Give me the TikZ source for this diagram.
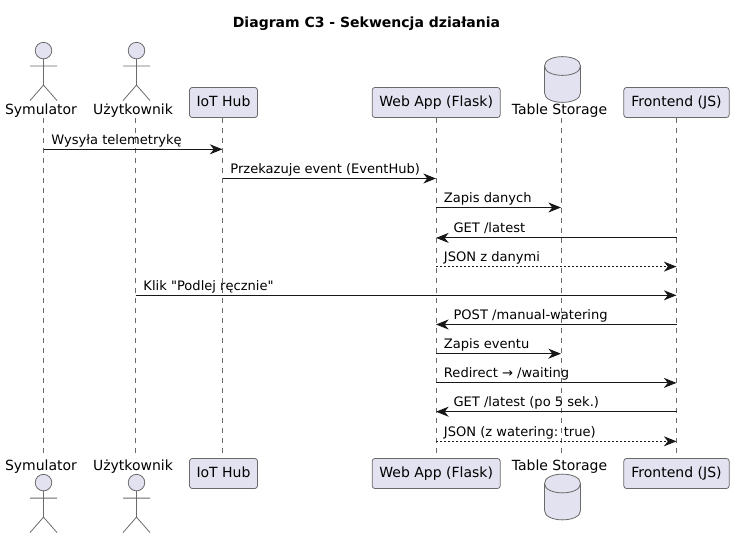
\documentclass[tikz,border=0pt]{standalone}
\usepackage{fontspec}
\setmainfont{DejaVu Sans}[Ligatures=TeXOff]
\usetikzlibrary{arrows.meta}
\definecolor{partfill}{HTML}{E2E2F0}
\definecolor{partline}{HTML}{6A6A6A}
\definecolor{callline}{HTML}{181818}

\begin{document}
\begin{tikzpicture}[x=0.75pt,y=-0.75pt,>={Stealth[length=9.5pt,width=7.5pt,inset=3pt]},
  part/.style={rectangle, draw=partline, line width=0.6pt, fill=partfill, rounded corners=2pt, minimum height=22.5pt, inner sep=0pt, text height=7.6pt, text depth=2.2pt, font=\fontsize{10.5}{12}\selectfont, text=black},
  actorname/.style={inner sep=0pt, text height=7.6pt, text depth=2.2pt, font=\fontsize{10.5}{12}\selectfont, text=black},
  figure/.style={draw=partline, line width=0.6pt, fill=partfill},
  limbs/.style={draw=partline, line width=0.6pt},
  lifeline/.style={draw=partline, line width=0.5pt, dash pattern=on 3.75pt off 3.75pt},
  call/.style={draw=callline, line width=0.75pt},
  reply/.style={call, dash pattern=on 1.5pt off 1.5pt},
  msgr/.style={pos=0, anchor=base west, inner sep=0pt, xshift=5.6pt, yshift=3.9pt, text=black, font=\fontsize{9.8}{12}\selectfont},
  msgl/.style={msgr, pos=1, xshift=7.2pt}]
\useasboundingbox (0,0) rectangle (734,538);
\node[inner sep=0pt, font=\fontsize{10.5}{12}\selectfont\bfseries] (title) at (366.5,24) {Diagram C3 - Sekwencja działania};

% lifelines
\coordinate (simA) at (43.5,118);   \coordinate (simB) at (43.5,457);
\coordinate (usrA) at (135.5,118);  \coordinate (usrB) at (135.5,457);
\coordinate (hubA) at (222.5,118);  \coordinate (hubB) at (222.5,458);
\coordinate (webA) at (436,118);    \coordinate (webB) at (436,458);
\coordinate (tabA) at (561,118);    \coordinate (tabB) at (561,457);
\coordinate (frnA) at (676.5,118);  \coordinate (frnB) at (676.5,458);
\foreach \who in {sim,usr,hub,web,tab,frn}
  \draw[lifeline] (\who A)--(\who B);

% participants
\draw (223.5,102.5) node[part, minimum width=51pt] (hub) {IoT Hub};
\draw (436.2,102.5) node[part, minimum width=96pt] (web) {Web App (Flask)};
\draw (676.5,102.5) node[part, minimum width=79pt] (frn) {Frontend (JS)};
\draw (223.5,473.5) node[part, minimum width=51pt] (hub2) {IoT Hub};
\draw (436.2,473.5) node[part, minimum width=96pt] (web2) {Web App (Flask)};
\draw (676.5,473.5) node[part, minimum width=79pt] (frn2) {Frontend (JS)};

% actors
\foreach \xx/\yy in {43.5/50.6, 136.5/50.6, 43.5/482.6, 136.5/482.6} {
  \draw[figure] (\xx,\yy) circle (6.2pt);
  \draw[limbs] (\xx,\yy+8.3)--(\xx,\yy+34.5) (\xx-13.5,\yy+15.5)--(\xx+13.5,\yy+15.5)
    (\xx-13.5,\yy+50)--(\xx,\yy+34.5)--(\xx+13.5,\yy+50);
}
\draw (41,111.2) node[actorname] (sim) {Symulator};
\draw (133,111.2) node[actorname] (usr) {Użytkownik};
\draw (41,467) node[actorname] (sim2) {Symulator};
\draw (133,467) node[actorname] (usr2) {Użytkownik};

% database
\foreach \yy in {56.5,474} {
  \draw[figure] (544.5,\yy+9.5) .. controls (544.5,\yy-3) and (580.5,\yy-3) .. (580.5,\yy+9.5)
    -- (580.5,\yy+36.5) .. controls (580.5,\yy+49) and (544.5,\yy+49) .. (544.5,\yy+36.5) -- cycle;
  \draw[limbs] (544.5,\yy+9.5) .. controls (544.5,\yy+22) and (580.5,\yy+22) .. (580.5,\yy+9.5);
}
\draw (559.5,111.2) node[actorname] (tab) {Table Storage};
\draw (559.5,467) node[actorname] (tab2) {Table Storage};

% messages
\foreach \i/\yy in {1/149.3,2/178.5,3/207.5,4/237.9,5/266.6,6/295.3,7/324.5,8/353.7,9/382.9,10/411.7,11/441.3}
  \coordinate (m\i) at (0,\yy);
\draw[call,->] (simA |- m1)--(hubA |- m1) node[msgr] (t1) {Wysyła telemetrykę};
\draw[call,->] (hubA |- m2)--(webA |- m2) node[msgr] (t2) {Przekazuje event (EventHub)};
\draw[call,->] (webA |- m3)--(tabA |- m3) node[msgr] (t3) {Zapis danych};
\draw[call,->] (frnA |- m4)--(webA |- m4) node[msgl] (t4) {GET /latest};
\draw[reply,->] (webA |- m5)--(frnA |- m5) node[msgr] (t5) {JSON z danymi};
\draw[call,->] (usrA |- m6)--(frnA |- m6) node[msgr] (t6) {Klik "Podlej ręcznie"};
\draw[call,->] (frnA |- m7)--(webA |- m7) node[msgl] (t7) {POST /manual-watering};
\draw[call,->] (webA |- m8)--(tabA |- m8) node[msgr] (t8) {Zapis eventu};
\draw[call,->] (webA |- m9)--(frnA |- m9) node[msgr] (t9) {Redirect → /waiting};
\draw[call,->] (frnA |- m10)--(webA |- m10) node[msgl] (t10) {GET /latest (po 5 sek.)};
\draw[reply,->] (webA |- m11)--(frnA |- m11) node[msgr] (t11) {JSON (z watering: true)};
\end{tikzpicture}
\end{document}
